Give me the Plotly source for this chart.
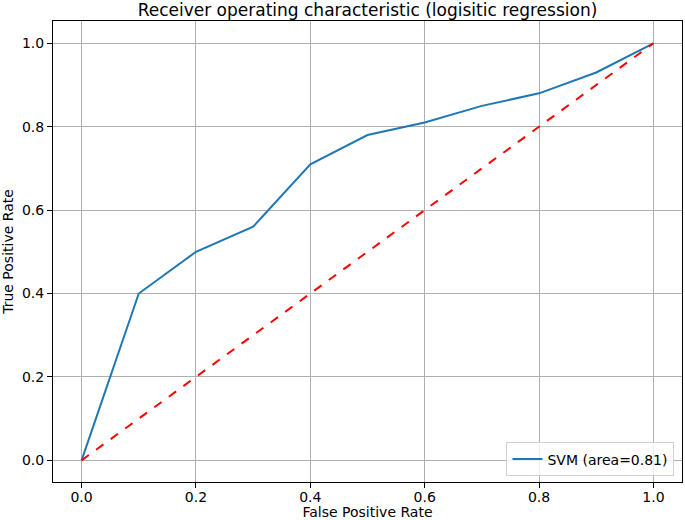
import plotly.graph_objects as go

fpr = [0.0, 0.1, 0.2, 0.3, 0.4, 0.5, 0.6, 0.7, 0.8, 0.9, 1.0]
tpr = [0.0, 0.40, 0.50, 0.56, 0.71, 0.78, 0.81, 0.85, 0.88, 0.93, 1.0]
diag_x = [0.0, 1.0]
diag_y = [0.0, 1.0]
tick_vals = [0.0, 0.2, 0.4, 0.6, 0.8, 1.0]
tick_text = ["0.0", "0.2", "0.4", "0.6", "0.8", "1.0"]

font = "DejaVu Sans"
fig = go.Figure()
fig.add_trace(go.Scatter(x=fpr, y=tpr, mode="lines", name="SVM (area=0.81)",
                         line=dict(color="#1f77b4", width=2)))
fig.add_trace(go.Scatter(x=diag_x, y=diag_y, mode="lines", showlegend=False,
                         line=dict(color="red", width=2, dash="dash")))

axis_common = dict(showgrid=True, gridcolor="#b0b0b0", gridwidth=1,
                   showline=True, linecolor="black", linewidth=1, mirror=True,
                   ticks="outside", ticklen=5, tickcolor="black",
                   zeroline=False, tickvals=tick_vals, ticktext=tick_text,
                   automargin=False,
                   tickfont=dict(family=font, size=14, color="black"))

fig.update_layout(
    width=685, height=520,
    margin=dict(l=53, r=3, t=21, b=38),
    paper_bgcolor="white", plot_bgcolor="white",
    title=dict(text="Receiver operating characteristic (logisitic regression)",
               x=0.5, xanchor="center", y=1 - 10/520, yanchor="middle",
               xref="paper",
               font=dict(family=font, size=17, color="black")),
    xaxis=dict(range=[-0.05, 1.05], ticklabelstandoff=-3,
               title=dict(text="False Positive Rate",
                          font=dict(family=font, size=14, color="black")),
               **axis_common),
    yaxis=dict(range=[-0.052, 1.0535],
               title=dict(text="True Positive Rate",
                          font=dict(family=font, size=14, color="black")),
               **axis_common),
    legend=dict(x=0.988, y=0.012, xanchor="right", yanchor="bottom",
                bgcolor="rgba(255,255,255,0.8)", bordercolor="#d0d0d0", borderwidth=1,
                tracegroupgap=0,
                font=dict(family=font, size=14, color="black")),
)
fig.write_html("out.html",
               config={"displayModeBar": False},
               post_script="document.body.style.margin='0';document.body.style.overflow='hidden';")
